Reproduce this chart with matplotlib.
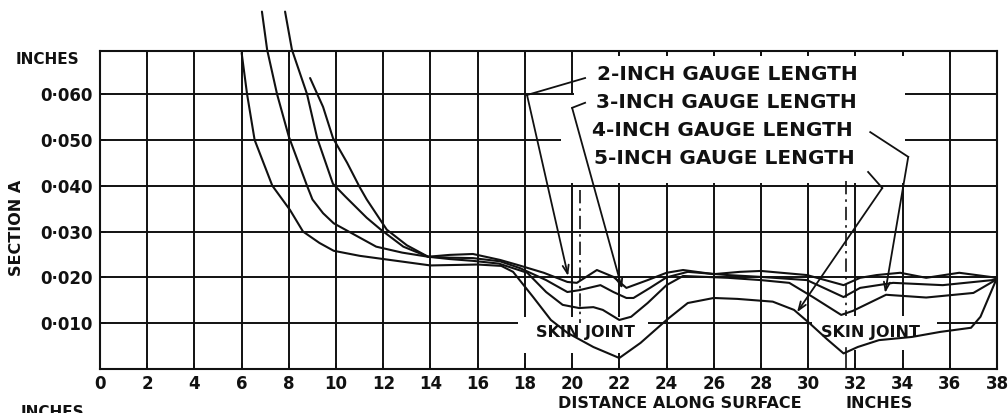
import matplotlib
matplotlib.use('Agg')
import matplotlib.pyplot as plt
from matplotlib.patches import Rectangle

# data (distance in inches, section in inches)
x_2in = [8.9, 9.45, 9.87, 10.47, 11.0, 11.3, 12.15, 13.0, 13.9, 14.8, 15.8, 16.95, 17.7, 18.8,
         19.8, 20.2, 21.05, 21.75, 22.3, 23.2, 24.0, 24.7, 26.0, 27.1, 28.0, 29.95, 31.5, 32.2,
         32.9, 33.9, 35.0, 36.4, 38.0]
y_2in = [0.0635, 0.0572, 0.0504, 0.0450, 0.0397, 0.0370, 0.0304, 0.0270, 0.0245, 0.0249, 0.0251,
         0.0238, 0.0227, 0.0210, 0.0190, 0.0188, 0.0216, 0.0201, 0.0177, 0.0194, 0.0210, 0.0216,
         0.0207, 0.0212, 0.0214, 0.0205, 0.0183, 0.0199, 0.0205, 0.0210, 0.0199, 0.0210, 0.0199]

x_3in = [7.84, 8.13, 8.77, 9.2, 9.87, 10.4, 11.3, 11.9, 12.85, 13.9, 14.8, 15.8, 16.95, 17.8,
         18.9, 19.8, 20.3, 21.2, 21.75, 22.3, 22.6, 23.3, 24.0, 24.9, 26.6, 28.0, 29.95, 31.5,
         32.2, 33.6, 35.7, 37.8, 38.0]
y_3in = [0.0780, 0.0697, 0.0600, 0.0504, 0.0404, 0.0376, 0.0330, 0.0304, 0.0267, 0.0245, 0.0243,
         0.0242, 0.0235, 0.0220, 0.0194, 0.0168, 0.0172, 0.0183, 0.0168, 0.0155, 0.0155, 0.0177,
         0.0200, 0.0212, 0.0205, 0.0201, 0.0194, 0.0157, 0.0177, 0.0188, 0.0183, 0.0194, 0.0198]

x_4in = [6.86, 7.08, 7.5, 8.0, 8.77, 9.0, 9.45, 9.9, 11.7, 12.8, 13.9, 14.8, 15.8, 16.9, 18.1,
         18.9, 19.6, 20.3, 20.9, 21.3, 22.0, 22.5, 23.2, 24.0, 24.7, 26.6, 28.0, 29.2, 30.2, 31.4,
         31.9, 33.3, 35.0, 37.0, 38.0]
y_4in = [0.0780, 0.0697, 0.0600, 0.0507, 0.0400, 0.0370, 0.0340, 0.0318, 0.0267, 0.0254, 0.0245,
         0.0240, 0.0236, 0.0230, 0.0210, 0.0168, 0.0140, 0.0133, 0.0135, 0.0129, 0.0107, 0.0114,
         0.0144, 0.0183, 0.0203, 0.0199, 0.0194, 0.0188, 0.0157, 0.0118, 0.0127, 0.0162, 0.0156,
         0.0166, 0.0196]

x_5in = [6.0, 6.23, 6.55, 7.3, 8.05, 8.6, 9.3, 9.9, 11.0, 12.0, 13.0, 14.0, 15.0, 16.0, 17.0,
         17.5, 18.35, 19.1, 19.8, 20.9, 22.0, 22.9, 24.0, 24.9, 26.0, 27.0, 28.5, 29.4, 30.1,
         30.8, 31.5, 32.1, 33.0, 34.4, 35.6, 36.9, 37.3, 38.0]
y_5in = [0.0690, 0.0600, 0.0500, 0.0400, 0.0347, 0.0300, 0.0275, 0.0258, 0.0247, 0.0240, 0.0233,
         0.0226, 0.0227, 0.0228, 0.0225, 0.0212, 0.0157, 0.0107, 0.0079, 0.0048, 0.0024, 0.0057,
         0.0107, 0.0144, 0.0155, 0.0153, 0.0147, 0.0129, 0.0098, 0.0065, 0.0034, 0.0048, 0.0063,
         0.0070, 0.0081, 0.0090, 0.0114, 0.0199]

x_ticks = list(range(0, 39, 2))
y_ticks = [0.010, 0.020, 0.030, 0.040, 0.050, 0.060]
y_ticklabels = ['0·010', '0·020', '0·030', '0·040', '0·050', '0·060']

labels = ['2-INCH GAUGE LENGTH', '3-INCH GAUGE LENGTH', '4-INCH GAUGE LENGTH', '5-INCH GAUGE LENGTH']
label_pos = [(21.06, 0.0642), (21.0, 0.0581), (20.85, 0.0520), (20.93, 0.0459)]
# leader lines: start, bend, arrow tip
leaders = [
    [(20.55, 0.0635), (18.09, 0.0598), (19.83, 0.0203)],
    [(20.55, 0.0581), (20.0, 0.0570), (22.12, 0.0175)],
    [(32.63, 0.0517), (34.24, 0.0463), (33.26, 0.0166)],
    [(32.54, 0.0430), (33.14, 0.0395), (29.53, 0.0124)],
]
joint_x = [20.35, 31.6]
joint_label_x = [20.55, 32.63]

ink = '#111111'
plt.rcParams['font.family'] = ['DejaVu Sans']

fig = plt.figure(figsize=(10.08, 4.13), dpi=100)
ax = fig.add_axes([100 / 1008, 1 - 369 / 413, 897 / 1008, 318 / 413])
ax.set_xlim(0, 38)
ax.set_ylim(0, 0.0694)

ax.set_xticks(x_ticks)
ax.set_xticklabels([str(t) for t in x_ticks], fontsize=12, fontweight='bold', color=ink)
ax.set_yticks(y_ticks)
ax.set_yticklabels(y_ticklabels, fontsize=12, fontweight='bold', color=ink)
ax.tick_params(axis='both', direction='in', length=4, width=1.3, color=ink, top=True)
ax.tick_params(axis='x', pad=4)
ax.tick_params(axis='y', pad=5)
ax.set_axisbelow(True)
ax.grid(True, color=ink, linewidth=1.4)
for sp in ax.spines.values():
    sp.set_linewidth(1.5)
    sp.set_color(ink)

# blank areas where the original grid was left out (behind the lettering)
ax.add_patch(Rectangle((20.07, 0.0405), 14.03, 0.0277, facecolor='white', edgecolor='none', zorder=1))
ax.add_patch(Rectangle((19.55, 0.0405), 0.6, 0.0192, facecolor='white', edgecolor='none', zorder=1))
ax.add_patch(Rectangle((17.7, 0.0035), 5.5, 0.0078, facecolor='white', edgecolor='none', zorder=1))
ax.add_patch(Rectangle((30.15, 0.0042), 5.3, 0.0073, facecolor='white', edgecolor='none', zorder=1))

# curves
for xs, ys in [(x_2in, y_2in), (x_3in, y_3in), (x_4in, y_4in), (x_5in, y_5in)]:
    ax.plot(xs, ys, color=ink, linewidth=1.5, clip_on=False, zorder=3,
            solid_joinstyle='round', solid_capstyle='round')

# skin joint centre lines
ax.plot([joint_x[0], joint_x[0]], [0.0390, 0.0100], color=ink, lw=1.2, ls=(0, (8, 3, 1.5, 3)), zorder=2)
ax.plot([joint_x[1], joint_x[1]], [0.0410, 0.0115], color=ink, lw=1.2, ls=(0, (8, 3, 1.5, 3)), zorder=2)
ax.plot([joint_x[1], joint_x[1]], [0.0045, 0.0], color=ink, lw=1.2, zorder=2)
for jx in joint_label_x:
    ax.text(jx, 0.0080, 'SKIN JOINT', ha='center', va='center', fontsize=11.5,
            fontweight='bold', color=ink, zorder=4)

# gauge-length labels with leaders
for lab, (lx, ly), pts in zip(labels, label_pos, leaders):
    ax.text(lx, ly, lab, ha='left', va='center', fontsize=14.5, fontweight='bold', color=ink, zorder=4)
    ax.plot([pts[0][0], pts[1][0]], [pts[0][1], pts[1][1]], color=ink, lw=1.3, zorder=3)
    ax.annotate('', xy=pts[2], xytext=pts[1],
                arrowprops=dict(arrowstyle='->,head_length=0.6,head_width=0.22', color=ink, lw=1.3,
                                shrinkA=0, shrinkB=0), zorder=3)

# outer labels
fig.text(47 / 1008, 1 - 60 / 413, 'INCHES', ha='center', va='center', fontsize=11, fontweight='bold', color=ink)
fig.text(17 / 1008, 1 - 228 / 413, 'SECTION A', ha='center', va='center', rotation=90,
         fontsize=11.5, fontweight='bold', color=ink)
fig.text(680 / 1008, 1 - 403 / 413, 'DISTANCE ALONG SURFACE', ha='center', va='center',
         fontsize=11.5, fontweight='bold', color=ink)
fig.text(879 / 1008, 1 - 403 / 413, 'INCHES', ha='center', va='center', fontsize=11.5, fontweight='bold', color=ink)
fig.text(52 / 1008, 1 - 405 / 413, 'INCHES', ha='center', va='top', fontsize=11, fontweight='bold', color=ink)

fig.savefig('out.png', dpi=100, facecolor='white')
